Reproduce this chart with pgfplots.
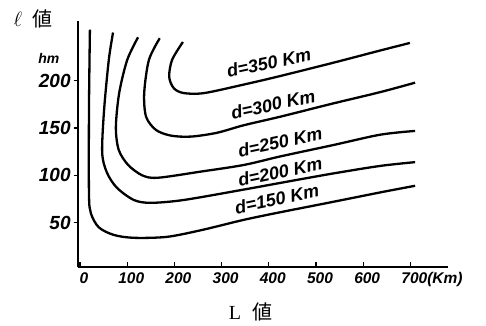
\documentclass[border=0pt]{standalone}
\usepackage{fontspec}
\setmainfont{Liberation Sans}
\newfontfamily\cjk{Noto Sans CJK JP}
\newfontfamily\serifL{Liberation Serif}
\usepackage{pgfplots}
\pgfplotsset{compat=1.18}
\begin{document}
\begin{tikzpicture}
\begin{axis}[
  x=0.472pt, y=0.946pt,
  xmin=-4, xmax=780, ymin=3, ymax=263,
  axis lines=left,
  axis line style={-, line width=1.5pt},
  clip=false,
  xtick={0,100,...,700},
  xticklabels={0,100,200,300,400,500,600,700\rlap{(Km)}},
  ytick={50,100,150,200},
  yticklabels={50,100,150,200},
  tick align=inside,
  major tick length=5pt,
  tick style={line width=1.2pt, black},
  ytick style={xshift=-4pt},
  xticklabel style={font=\fontsize{15.5}{15.5}\selectfont\bfseries\itshape, xshift=4pt, yshift=-2pt},
  yticklabel style={font=\fontsize{19}{19}\selectfont\bfseries\itshape, xshift=-4pt},
]
\addplot[smooth, line width=2.3pt] coordinates {(21,254) (19,169) (19,81) (23,60) (40,45) (72,37) (114,34) (184,35) (256,42) (347,53) (424,61) (536,72) (636,82) (710,89)};
\addplot[smooth, line width=2.3pt] coordinates {(70,251) (61,222) (51,169) (47,124) (57,103) (78,87) (114,74) (150,71) (220,74) (347,85) (424,92) (536,102) (636,110) (710,114)};
\addplot[smooth, line width=2.3pt] coordinates {(123,246) (100,222) (83,187) (76,151) (82,127) (102,111) (132,100) (165,97.5) (256,104) (347,111) (424,120) (536,132) (636,143) (710,147)};
\addplot[smooth, line width=2.3pt] coordinates {(169,245) (146,222) (136,187) (140,162) (161,148) (193,142) (235,141) (290,145) (347,153) (424,162) (536,176) (636,188) (710,198)};
\addplot[smooth, line width=2.3pt] coordinates {(218,241) (195,222) (189,204) (199,192) (220,187) (263,187) (347,196) (424,205) (536,219) (636,232) (699,240)};
\begin{scope}[every node/.style={rotate=12, inner sep=0pt, font=\fontsize{18}{18}\selectfont\bfseries\itshape}]
\node at (axis cs:400,219) {d=350 Km};
\node at (axis cs:409,175) {d=300 Km};
\node at (axis cs:424,135) {d=250 Km};
\node at (axis cs:424,104) {d=200 Km};
\node at (axis cs:417,75) {d=150 Km};
\end{scope}
\node[font=\fontsize{14}{14}\selectfont\bfseries\itshape] at (axis cs:-66,224) {hm};
\node[font=\fontsize{20}{20}\selectfont] at (axis cs:-100,265) {$\ell$\hspace{0.5em}{\cjk 値}};
\node[font=\fontsize{20}{20}\selectfont] at (axis cs:362,-44) {{\serifL L}\hspace{0.6em}{\cjk 値}};
\coordinate (tl) at (axis cs:-169.5,285.4);
\coordinate (br) at (axis cs:860.2,-59.2);
\end{axis}
\pgfresetboundingbox
\path[use as bounding box] (tl) rectangle (br);
\end{tikzpicture}
\end{document}
